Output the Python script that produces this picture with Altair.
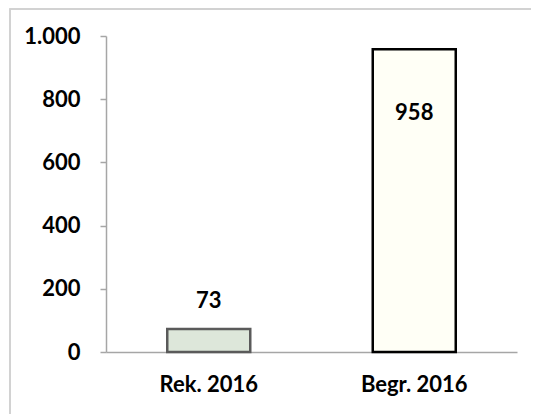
import altair as alt
import pandas as pd

categories = ["Rek. 2016", "Begr. 2016"]
values = [73, 958]
fills = ["#dde7da", "#fffff6"]
strokes = ["#5a5a5a", "#000000"]
label_pos = ["above", "inside"]

df = pd.DataFrame({"cat": categories, "val": values, "fill": fills,
                   "stroke": strokes, "pos": label_pos})

W, H = 411, 316
FONT = "Lato"
FS = 22

x = alt.X("cat:N", sort=categories, title=None,
          scale=alt.Scale(paddingInner=0.0, paddingOuter=0.0),
          axis=alt.Axis(labelAngle=0, ticks=False, labelPadding=22, labelFontSize=FS,
                        labelFont=FONT, labelFontWeight="bold", labelColor="#000",
                        domainColor="#a6a6a6", domainWidth=1.5))
y = alt.Y("val:Q", title=None, scale=alt.Scale(domain=[0, 1000], nice=False),
          axis=alt.Axis(values=[0, 200, 400, 600, 800, 1000], grid=False,
                        labelExpr="replace(format(datum.value, ','), ',', '.')",
                        labelFontSize=FS, labelFont=FONT, labelFontWeight="bold",
                        labelColor="#000", labelPadding=20, tickSize=6,
                        tickColor="#a6a6a6", domainColor="#a6a6a6", domainWidth=1.5,
                        tickWidth=1.5))

bars = alt.Chart(df).mark_bar(size=83, strokeWidth=2.5).encode(
    x=x, y=y,
    fill=alt.Fill("fill:N", scale=None),
    stroke=alt.Stroke("stroke:N", scale=None),
)

above = alt.Chart(df).transform_filter("datum.pos == 'above'").mark_text(
    dy=-28, fontSize=FS, font=FONT, fontWeight="bold", color="#000").encode(
    x=alt.X("cat:N", sort=categories), y="val:Q", text="val:Q")
inside = alt.Chart(df).transform_filter("datum.pos == 'inside'").mark_text(
    dy=64, fontSize=FS, font=FONT, fontWeight="bold", color="#000").encode(
    x=alt.X("cat:N", sort=categories), y="val:Q", text="val:Q")

border = alt.Chart(df).mark_rect(fill=None, stroke="#d0d0d0", strokeWidth=1.5).encode(
    x=alt.value(-96), x2=alt.value(W + 40), y=alt.value(-27), y2=alt.value(H + 80))

chart = alt.layer(border, bars, above, inside).properties(
    width=W, height=H,
    autosize=alt.AutoSizeParams(type="none"),
    padding={"left": 98, "top": 28, "right": 14, "bottom": 62},
).configure_view(stroke=None)

chart.save("out.html", embed_options={"renderer": "svg", "actions": False})
